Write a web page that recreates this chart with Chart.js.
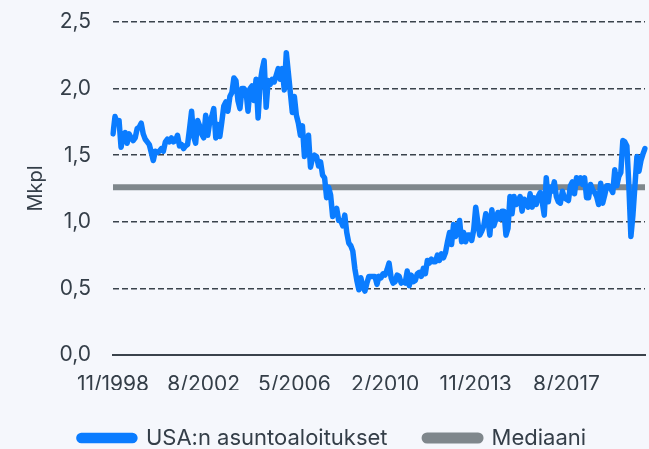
<!DOCTYPE html>
<html>
<head>
<meta charset="utf-8">
<script src="https://cdn.jsdelivr.net/npm/chart.js@4.4.1/dist/chart.umd.min.js"></script>
<style>
  html, body { margin: 0; padding: 0; background: #f5f7fc; }
  #wrap { width: 649px; height: 449px; }
</style>
</head>
<body>
<div id="wrap"><canvas id="c"></canvas></div>
<script>
// US housing starts, millions (SAAR), monthly 11/1998 - 11/2020
const startYear = 1998;
const startMonth = 11;
const starts = [
  // 1998 Nov-Dec
  1.66, 1.79,
  // 1999
  1.74, 1.76, 1.56, 1.64, 1.67, 1.59, 1.66, 1.63, 1.61, 1.63, 1.70, 1.71,
  // 2000
  1.74, 1.66, 1.62, 1.60, 1.58, 1.52, 1.46, 1.53, 1.52, 1.53, 1.55, 1.53,
  // 2001
  1.60, 1.62, 1.60, 1.63, 1.60, 1.61, 1.65, 1.57, 1.58, 1.55, 1.57, 1.58,
  // 2002
  1.70, 1.83, 1.64, 1.59, 1.76, 1.72, 1.66, 1.63, 1.80, 1.65, 1.75, 1.79,
  // 2003
  1.85, 1.63, 1.73, 1.64, 1.75, 1.87, 1.90, 1.83, 1.94, 1.97, 2.08, 2.06,
  // 2004
  1.91, 1.85, 2.00, 2.00, 1.98, 1.83, 2.00, 2.02, 1.91, 2.07, 1.78, 2.04,
  // 2005
  2.14, 2.21, 1.86, 2.06, 2.03, 2.07, 2.05, 2.10, 2.15, 2.07, 2.15, 1.99,
  // 2006
  2.27, 2.12, 1.97, 1.82, 1.94, 1.80, 1.74, 1.65, 1.72, 1.49, 1.57, 1.65,
  // 2007
  1.41, 1.48, 1.50, 1.49, 1.42, 1.45, 1.35, 1.33, 1.18, 1.26, 1.20, 1.04,
  // 2008
  1.08, 1.10, 1.01, 1.01, 0.97, 1.05, 0.92, 0.84, 0.82, 0.78, 0.65, 0.56,
  // 2009
  0.49, 0.58, 0.51, 0.48, 0.54, 0.59, 0.59, 0.59, 0.59, 0.53, 0.59, 0.58,
  // 2010
  0.61, 0.60, 0.64, 0.69, 0.58, 0.54, 0.55, 0.60, 0.59, 0.54, 0.55, 0.54,
  // 2011
  0.63, 0.52, 0.60, 0.55, 0.56, 0.61, 0.62, 0.59, 0.65, 0.61, 0.71, 0.69,
  // 2012
  0.72, 0.70, 0.70, 0.75, 0.71, 0.76, 0.73, 0.77, 0.85, 0.92, 0.83, 0.98,
  // 2013
  0.89, 0.96, 1.01, 0.85, 0.92, 0.85, 0.90, 0.90, 0.86, 0.94, 1.11, 1.00,
  // 2014
  0.90, 0.93, 0.97, 1.06, 1.02, 0.90, 1.09, 0.97, 1.02, 1.07, 1.02, 1.08,
  // 2015
  1.08, 0.90, 0.95, 1.19, 1.06, 1.19, 1.13, 1.15, 1.19, 1.08, 1.17, 1.15,
  // 2016
  1.11, 1.21, 1.11, 1.18, 1.13, 1.19, 1.22, 1.15, 1.05, 1.33, 1.15, 1.26,
  // 2017
  1.23, 1.30, 1.19, 1.15, 1.14, 1.23, 1.18, 1.17, 1.16, 1.27, 1.30, 1.21,
  // 2018
  1.33, 1.29, 1.33, 1.28, 1.33, 1.18, 1.18, 1.28, 1.24, 1.22, 1.19, 1.13,
  // 2019
  1.29, 1.14, 1.20, 1.27, 1.27, 1.25, 1.22, 1.39, 1.27, 1.34, 1.37, 1.61,
  // 2020 Jan-Nov
  1.60, 1.57, 1.27, 0.89, 1.05, 1.27, 1.49, 1.38, 1.46, 1.51, 1.55
];
const medianValue = 1.26;
const yTicks = [0, 0.5, 1.0, 1.5, 2.0, 2.5];
const labelStep = 45;

const labels = starts.map((v, i) => {
  const m = (startMonth - 1 + i) % 12 + 1;
  const y = startYear + Math.floor((startMonth - 1 + i) / 12);
  return m + "/" + y;
});
const median = starts.map(() => medianValue);

const textColor = "#343e48";
const font = { family: "Inter", size: 21 };

new Chart(document.getElementById("c"), {
  type: "line",
  data: {
    labels: labels,
    datasets: [
      {
        label: "USA:n asuntoaloitukset",
        data: starts,
        borderColor: "#0a7cff",
        backgroundColor: "#0a7cff",
        borderWidth: 5.5,
        pointRadius: 0,
        borderCapStyle: "round",
        borderJoinStyle: "round",
        tension: 0
      },
      {
        label: "Mediaani",
        data: median,
        borderColor: "#7f878c",
        backgroundColor: "#7f878c",
        borderWidth: 6,
        pointRadius: 0
      }
    ]
  },
  options: {
    responsive: true,
    maintainAspectRatio: false,
    animation: false,
    layout: { autoPadding: false, padding: { top: 22, right: 4, left: 20, bottom: 0 } },
    plugins: {
      legend: {
        position: "bottom",
        maxHeight: 59,
        labels: {
          color: textColor,
          font: { family: "Inter", size: 22 },
          boxWidth: 56,
          boxHeight: 5,
          padding: 37,
          useBorderRadius: true,
          borderRadius: 2.5
        }
      },
      tooltip: { enabled: false }
    },
    scales: {
      x: {
        afterFit: function (scale) {
          scale.height = 35;
          scale.paddingLeft = 0;
          scale.paddingRight = 0;
        },
        grid: { display: false, drawTicks: false, tickLength: 0 },
        border: { display: true, color: "#3a434c", width: 2 },
        ticks: {
          color: textColor,
          font: font,
          autoSkip: false,
          maxRotation: 0,
          padding: 17,
          callback: function (val, i) {
            return i % labelStep === 0 ? labels[i] : "";
          }
        }
      },
      y: {
        min: 0,
        max: 2.5,
        afterFit: function (scale) {
          scale.width = 93;
          scale.paddingTop = 0;
          scale.paddingBottom = 0;
        },
        afterBuildTicks: function (scale) {
          scale.ticks = yTicks.map(v => ({ value: v }));
        },
        border: { display: false, dash: [6, 3] },
        grid: {
          drawTicks: false,
          color: "#3a434c",
          lineWidth: 1.5
        },
        ticks: {
          color: textColor,
          font: font,
          padding: 22,
          callback: function (v) { return v.toFixed(1).replace(".", ","); }
        },
        title: {
          display: true,
          text: "Mkpl",
          color: textColor,
          font: { family: "Inter", size: 20 },
          padding: { top: 4, bottom: 0 }
        }
      }
    }
  }
});
</script>
</body>
</html>
